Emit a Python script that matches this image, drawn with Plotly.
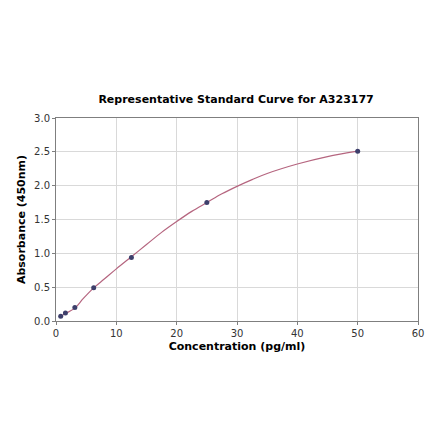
import plotly.graph_objects as go

# standard curve points
conc = [0.78, 1.56, 3.125, 6.25, 12.5, 25, 50]
absorb = [0.07, 0.12, 0.20, 0.49, 0.94, 1.75, 2.51]

# fitted curve
fit_x = [0.78, 1.56, 3.125, 4.5, 6.25, 8, 10, 12.5, 15, 17.5, 20, 22.5, 25, 27.5, 30, 32.5, 35, 40, 45, 50]
fit_y = [0.07, 0.11, 0.19, 0.33, 0.49, 0.62, 0.77, 0.95, 1.13, 1.31, 1.47, 1.62, 1.75, 1.88, 1.99, 2.09, 2.18, 2.32, 2.43, 2.51]

x_ticks = [0, 10, 20, 30, 40, 50, 60]
y_ticks = [0.0, 0.5, 1.0, 1.5, 2.0, 2.5, 3.0]

fig = go.Figure()

fig.add_trace(go.Scatter(x=fit_x, y=fit_y, mode='lines',
                         line=dict(color='#b5657f', width=1.2, shape='spline', smoothing=1.0),
                         hoverinfo='skip'))

fig.add_trace(go.Scatter(x=conc, y=absorb, mode='markers',
                         marker=dict(color='#3d3f6b', size=5)))

axis_common = dict(showline=True, linecolor='#7f7f7f', linewidth=1, mirror=True,
                   showgrid=True, gridcolor='#d9d9d9', gridwidth=1,
                   ticks='outside', ticklen=3, tickcolor='#7f7f7f',
                   zeroline=False, tickfont=dict(size=10, color='#333333'))

# page body has an 8px margin, so the figure is a bit smaller than the window
fig.update_layout(
    width=432, height=433,
    margin=dict(l=46, r=22, t=110, b=120),
    paper_bgcolor='white', plot_bgcolor='white',
    showlegend=False,
    font=dict(family='DejaVu Sans', color='black'),
    title=dict(text='<b>Representative Standard Curve for A323177</b>',
               font=dict(size=11), x=0.528, xanchor='center', y=0.79, yanchor='middle'),
    xaxis=dict(range=[0, 60], tickvals=x_ticks, tickformat='d',
               title=dict(text='<b>Concentration (pg/ml)</b>', font=dict(size=11), standoff=4),
               **axis_common),
    yaxis=dict(range=[0, 3.0], tickvals=y_ticks, tickformat='.1f',
               title=dict(text='<b>Absorbance (450nm)</b>', font=dict(size=11), standoff=6),
               **axis_common),
)

fig.write_html("out.html")
